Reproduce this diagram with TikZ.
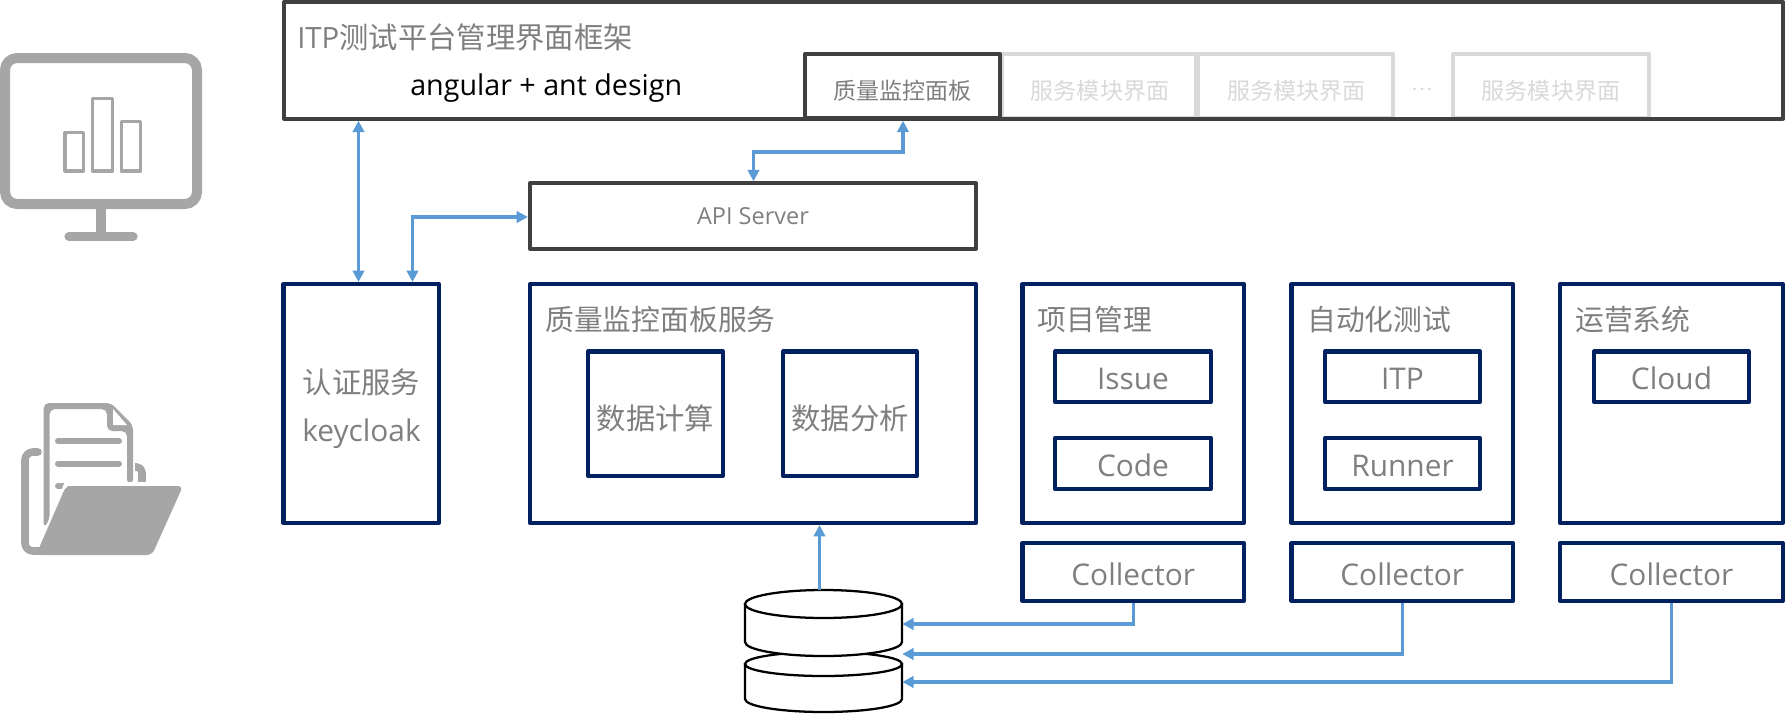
\documentclass[tikz,border=0pt]{standalone}
\usepackage{fontspec}
\usetikzlibrary{arrows.meta,calc}
\setmainfont{Open Sans}
\newfontfamily\cjk{Noto Sans CJK SC}
\newcommand{\fs}[1]{\fontsize{#1}{#1}\selectfont}
\newcommand{\dn}[1]{\raisebox{0pt}[19.5pt][0pt]{#1}}
\newcommand{\dnc}[1]{\raisebox{0pt}[23pt][0pt]{#1}}
\definecolor{navy}{HTML}{002060}
\definecolor{dark}{HTML}{404040}
\definecolor{txt}{HTML}{7F7F7F}
\definecolor{pale}{HTML}{D9D9D9}
\definecolor{iconc}{HTML}{A6A6A6}
\definecolor{flow}{HTML}{5B9BD5}
\newcommand{\bx}[7][]{\node[#2,#1,minimum width={(#5-#3-4.1)*0.75pt},minimum height={(#6-#4-4.1)*0.75pt}] (#7) at ({(#3+#5)/2},{(#4+#6)/2})}
\tikzset{
  basebox/.style={draw,rectangle,inner sep=0pt,line width=3.1pt,line join=round},
  navybox/.style={basebox,draw=navy,text=txt,font=\fs{22.4}},
  darkbox/.style={basebox,draw=dark,text=txt,font=\fs{17.6}},
  palebox/.style={basebox,draw=pale,text=pale,font=\fs{17.3}\cjk},
  label/.style={inner sep=0pt,text=txt,font=\fs{21.6}\cjk,anchor=west},
  flowline/.style={draw=flow,line width=2.4pt,-{Triangle[length=8.5pt,width=8.5pt]}},
  flowboth/.style={draw=flow,line width=2.4pt,{Triangle[length=8.5pt,width=8.5pt]}-{Triangle[length=8.5pt,width=8.5pt]}},
  icon/.style={draw=iconc,line join=round,line cap=round},
  cyl/.style={draw=black,fill=white,line width=1.7pt},
}
\begin{document}
\begin{tikzpicture}[x=0.75pt,y=-0.75pt]
\useasboundingbox (0,0) rectangle (1785,714);
% monitor icon
\draw[icon,line width=7.5pt,rounded corners=9pt] (5,58) rectangle (197,204);
\draw[icon,line width=7.5pt,line cap=butt] (101,209) -- (101,236);
\draw[icon,line width=7pt] (69,236.5) -- (133,236.5);
\draw[icon,line width=2.5pt] (65,132.5) rectangle (83.5,171);
\draw[icon,line width=2.5pt] (92.5,98.5) rectangle (112.5,171);
\draw[icon,line width=2.5pt] (121.5,121.5) rectangle (140.5,171);
% folder icon
\draw[icon,line width=5.7pt,rounded corners=6pt] (38,452) -- (25,452) -- (25,551) -- (60,551);
\draw[icon,line width=5.7pt,rounded corners=4pt,line cap=butt] (135,467) -- (142,467) -- (142,490);
\fill[iconc,rounded corners=4pt] (43.6,528) -- (43.6,403) -- (111,403) -- (133,425) -- (133,485) -- (127,485) -- (127,431) -- (107,431) -- (107,409) -- (49.6,409) -- (49.6,520) -- cycle;
\fill[white] (113,409) -- (113,425) -- (127,425) -- cycle;
\draw[icon,line width=4.5pt] (58,441) -- (119,441);
\draw[icon,line width=4.5pt] (58,463.5) -- (119,463.5);
\draw[icon,line width=4.5pt] (58,486) -- (119,486);
\draw[white,line width=3pt] (42,545) -- (66,484) -- (150,484);
\fill[iconc,rounded corners=4pt] (66,486) -- (183,486) -- (152,555) -- (36,555) -- cycle;
% frame with tabs
\bx{palebox}{1000}{52}{1198}{120}{tabB} {};
\bx{palebox}{1196}{52}{1395}{120}{tabC} {};
\bx{palebox}{1451}{52}{1651}{120}{tabD} {};
\node[inner sep=0pt,text=pale,font=\fs{17.3}\cjk] (tabBt) at (1100,91) {服务模块界面};
\node[inner sep=0pt,text=pale,font=\fs{17.3}\cjk] (tabCt) at (1296.5,91) {服务模块界面};
\node[inner sep=0pt,text=pale,font=\fs{17.3}\cjk] (tabDt) at (1551,91) {服务模块界面};
\node[inner sep=0pt,text=pale,font=\fs{15}\cjk] (dots) at (1422,89) {⋯};
\bx{darkbox}{803}{52}{1002}{120}{tabA} {};
\node[inner sep=0pt,text=txt,font=\fs{17.3}\cjk] (tabAt) at (902.5,91) {质量监控面板};
\bx{darkbox}{282}{0}{1785}{120.7}{frame} {};
\node[label,font=\fs{22}] (ftitle) at (297,37) {ITP{\cjk 测试平台管理界面框架}};
\node[inner sep=0pt,text=black,font=\fs{21.5},anchor=west] (ftech) at (410,88) {angular + ant design};
% API
\bx{darkbox}{528}{181.3}{978}{250.7}{api} {API Server};
% auth
\bx{navybox}{281.5}{282}{441}{525}{auth} {};
\node[inner sep=0pt,text=txt,font=\fs{22}\cjk] (autht) at (361.5,382) {认证服务};
\node[inner sep=0pt,text=txt,font=\fs{22.4}] (authk) at (361.5,434) {keycloak};
% service
\bx{navybox}{528}{282}{978}{525}{svc} {};
\node[label] (svct) at (545,320) {质量监控面板服务};
\bx[font=\fs{22}\cjk]{navybox}{586}{349.5}{725}{478}{calc} {\dnc{数据计算}};
\bx[font=\fs{22}\cjk]{navybox}{781}{349.5}{919}{478}{ana} {\dnc{数据分析}};
% project
\bx{navybox}{1020.5}{282}{1246}{525}{proj} {};
\node[label] (projt) at (1037,320) {项目管理};
\bx{navybox}{1053}{349.5}{1213}{404}{issue} {\dn{Issue}};
\bx{navybox}{1053}{436}{1213}{491}{code} {\dn{Code}};
% auto
\bx{navybox}{1289.5}{282}{1515}{525}{auto} {};
\node[label] (autot) at (1307,320) {自动化测试};
\bx{navybox}{1323}{349.5}{1482}{404}{itp} {\dn{ITP}};
\bx{navybox}{1323}{436}{1482}{491}{runner} {\dn{Runner}};
% ops
\bx{navybox}{1558}{282}{1785}{525}{ops} {};
\node[label] (opst) at (1575,320) {运营系统};
\bx{navybox}{1592}{349.5}{1751}{404}{cloud} {\dn{Cloud}};
% collectors
\bx{navybox}{1020.5}{541}{1246}{603}{colA} {\dn{Collector}};
\bx{navybox}{1289.5}{541}{1515}{603}{colB} {\dn{Collector}};
\bx{navybox}{1558}{541}{1785}{603}{colC} {\dn{Collector}};
% databases
\path[cyl] (745,664) -- (745,699) arc[start angle=180,end angle=0,x radius=78.5,y radius=13] -- (902,664) -- cycle;
\draw[cyl] (823.5,664) ellipse (78.5 and 12);
\path[cyl] (745,604) -- (745,642) arc[start angle=180,end angle=0,x radius=78.5,y radius=14] -- (902,604) -- cycle;
\draw[cyl] (823.5,604) ellipse (78.5 and 14);
\node[inner sep=0pt,minimum width=117.75pt,minimum height=49.5pt] (dbA) at (823.5,623) {};
\node[inner sep=0pt,minimum width=117.75pt,minimum height=46pt] (dbB) at (823.5,682) {};
% connectors
\coordinate (ax) at (358.5,0);
\coordinate (bx) at (412.5,0);
\coordinate (by) at (0,217);
\coordinate (cx) at (753.5,0);
\coordinate (dx) at (903,0);
\coordinate (ey) at (0,152);
\coordinate (fx) at (819.5,0);
\coordinate (ay) at (0,624);
\coordinate (cy) at (0,654);
\coordinate (dy) at (0,682);
\draw[flowboth] (ax |- frame.south) -- (ax |- auth.north);
\draw[flowboth] (bx |- auth.north) -- (bx |- by) -- (api.west |- by);
\draw[flowboth] (cx |- api.north) -- (cx |- ey) -- (dx |- ey) -- (dx |- frame.south);
\draw[flowline] (fx |- dbA.north) -- (fx |- svc.south);
\draw[flowline] (colA.south) -- (colA.south |- ay) -- (dbA.east |- ay);
\draw[flowline] (colB.south) -- (colB.south |- cy) -- (dbA.east |- cy);
\draw[flowline] (colC.south) -- (colC.south |- dy) -- (dbB.east |- dy);
\end{tikzpicture}
\end{document}
